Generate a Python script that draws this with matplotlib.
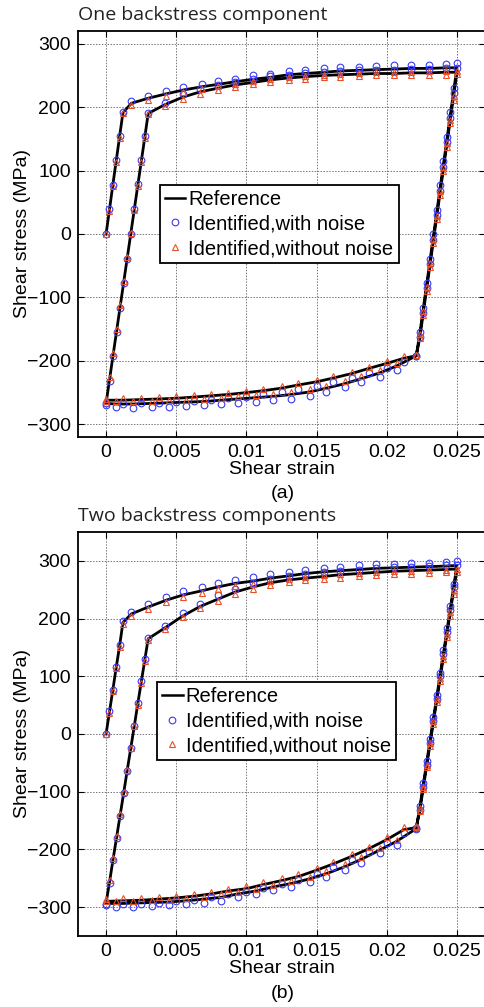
import matplotlib
matplotlib.use("Agg")
import matplotlib.pyplot as plt
from matplotlib.lines import Line2D

plt.rcParams['font.family'] = ['Liberation Sans', 'DejaVu Sans']

# shared strain path: load, unload, reverse, reload, load, unload, reverse
strain = [0, 0.00024, 0.00048, 0.00072, 0.00096, 0.0012, 0.0018, 0.0030, 0.0043, 0.0055, 0.0068, 0.0080, 0.0092,
          0.0105, 0.0117, 0.0130, 0.0142, 0.0155, 0.0167, 0.0180, 0.0192, 0.0205, 0.0217, 0.0230, 0.0242, 0.0250,
          0.02476, 0.02452, 0.02428, 0.02404, 0.0238, 0.02356, 0.02332, 0.02308, 0.02284, 0.0226, 0.02236, 0.0221,
          0.0207, 0.0195, 0.0182, 0.0170, 0.0157, 0.0145, 0.0132, 0.0119, 0.0107, 0.0094, 0.0082, 0.0070, 0.0057,
          0.0045, 0.0033, 0.0019, 0.0007, 0,
          0.00025, 0.0005, 0.00075, 0.001, 0.00125, 0.0015, 0.00175, 0.002, 0.00225, 0.0025, 0.00275, 0.0030,
          0.0042, 0.0055, 0.0067, 0.0080, 0.0092, 0.0105, 0.0117, 0.0130, 0.0142, 0.0155, 0.0167, 0.0180, 0.0192,
          0.0205, 0.0217, 0.0230, 0.0242, 0.0250,
          0.02476, 0.02452, 0.02428, 0.02404, 0.0238, 0.02356, 0.02332, 0.02308, 0.02284, 0.0226, 0.02236, 0.0221,
          0.0212, 0.0200, 0.0187, 0.0175, 0.0162, 0.0150, 0.0137, 0.0125, 0.0112, 0.0100, 0.0087, 0.0075, 0.0063,
          0.0050, 0.0038, 0.0025, 0.0012, 0]

# (a) one backstress component
ref_a = [0, 38, 77, 115, 153, 191, 206, 214, 221, 227, 232, 236, 240, 244, 247, 251, 253, 255, 257, 258, 259, 260, 261, 261, 262, 262,
         224, 186, 148, 110, 72, 34, -4, -42, -80, -118, -156, -192,
         -208, -219, -228, -236, -243, -249, -253, -256, -258, -260, -262, -264, -265, -266, -267, -268, -268, -267,
         -229, -191, -153, -115, -77, -39, -1, 37, 75, 113, 151, 190,
         204, 216, 224, 230, 235, 239, 243, 246, 248, 250, 251, 252, 253, 253, 254, 254, 255, 255,
         217, 179, 141, 103, 65, 27, -11, -49, -87, -125, -163, -192,
         -196, -204, -212, -220, -227, -233, -238, -243, -247, -250, -253, -255, -257, -259, -260, -261, -262, -262]
noise_a = [0, 39, 78, 116, 154, 193, 210, 218, 226, 232, 237, 241, 245, 250, 253, 257, 259, 261, 263, 264, 265, 266, 267, 267, 268, 269,
           230, 192, 153, 115, 77, 38, 0, -39, -77, -116, -155, -193,
           -214, -225, -234, -241, -249, -255, -260, -262, -265, -267, -268, -270, -271, -272, -273, -274, -273, -269,
           -231, -192, -154, -116, -77, -39, 0, 39, 79, 117, 155, 191,
           207, 220, 229, 235, 240, 244, 249, 251, 254, 256, 257, 258, 259, 259, 260, 260, 261, 261,
           222, 183, 145, 106, 68, 30, -9, -47, -85, -124, -162, -193,
           -202, -211, -219, -227, -234, -239, -245, -249, -253, -257, -259, -261, -263, -265, -266, -267, -268, -267]
clean_a = [0, 37, 76, 114, 152, 190, 204, 212, 218, 224, 229, 233, 237, 241, 244, 247, 249, 251, 253, 254, 255, 256, 256, 257, 257, 257,
           218, 180, 143, 105, 67, 29, -8, -46, -84, -121, -158, -190,
           -204, -215, -224, -232, -239, -245, -249, -252, -254, -256, -258, -260, -261, -262, -263, -264, -264, -264,
           -225, -187, -150, -112, -74, -37, 1, 38, 76, 114, 152, 189,
           202, 213, 221, 227, 232, 236, 240, 243, 245, 247, 248, 249, 250, 250, 251, 251, 251, 252,
           212, 175, 137, 99, 62, 24, -14, -52, -90, -127, -164, -190,
           -192, -200, -209, -217, -224, -230, -235, -240, -244, -247, -250, -252, -254, -255, -257, -258, -259, -260]

# (b) two backstress components
ref_b = [0, 38, 76, 115, 152, 193, 208, 220, 232, 241, 248, 255, 261, 265, 270, 274, 278, 281, 283, 285, 287, 288, 289, 290, 291, 292,
         254, 216, 178, 140, 102, 64, 26, -12, -50, -88, -126, -164,
         -186, -201, -217, -230, -242, -251, -259, -265, -272, -277, -283, -286, -289, -291, -292, -293, -294, -293,
         -256, -217, -179, -141, -103, -64, -26, 12, 51, 89, 127, 165,
         184, 205, 221, 234, 246, 255, 262, 267, 270, 273, 276, 278, 280, 282, 283, 284, 285, 286,
         248, 210, 172, 134, 96, 58, 20, -18, -56, -94, -132, -162,
         -166, -183, -199, -212, -225, -236, -247, -254, -261, -268, -272, -277, -281, -284, -286, -288, -289, -290]
noise_b = [0, 39, 77, 116, 154, 196, 212, 225, 237, 247, 254, 261, 267, 272, 277, 281, 285, 288, 290, 292, 294, 295, 296, 297, 298, 299,
           260, 222, 183, 145, 106, 68, 30, -9, -47, -85, -124, -163,
           -192, -207, -223, -236, -248, -257, -265, -271, -278, -283, -289, -292, -295, -297, -298, -299, -300, -296,
           -258, -219, -180, -142, -103, -64, -25, 14, 53, 92, 130, 166,
           187, 209, 226, 240, 252, 261, 268, 273, 277, 280, 283, 285, 287, 289, 290, 291, 292, 293,
           254, 215, 177, 138, 100, 61, 23, -16, -54, -92, -131, -164,
           -172, -189, -205, -218, -231, -242, -253, -260, -267, -274, -278, -283, -287, -290, -292, -294, -295, -295]
clean_b = [0, 37, 75, 114, 151, 191, 205, 217, 229, 237, 244, 251, 256, 260, 265, 269, 272, 275, 277, 279, 281, 282, 283, 284, 285, 286,
           249, 211, 173, 135, 97, 60, 22, -16, -54, -91, -128, -162,
           -183, -197, -213, -226, -238, -247, -255, -261, -268, -273, -278, -282, -285, -287, -288, -289, -290, -290,
           -253, -215, -177, -139, -101, -63, -25, 13, 51, 89, 126, 163,
           182, 202, 218, 231, 242, 251, 258, 263, 266, 269, 271, 273, 275, 277, 278, 279, 280, 281,
           243, 205, 168, 130, 92, 55, 17, -21, -58, -96, -133, -160,
           -162, -179, -195, -208, -221, -232, -242, -250, -257, -263, -268, -273, -277, -280, -282, -284, -285, -286]

x_ticks = [0, 0.005, 0.01, 0.015, 0.02, 0.025]
x_ticklabels = ['0', '0.005', '0.01', '0.015', '0.02', '0.025']
y_ticks = [-300, -200, -100, 0, 100, 200, 300]
titles = ['One backstress component', 'Two backstress components']
panel_tags = ['(a)', '(b)']
legend_labels = ['Reference', 'Identified,with noise', 'Identified,without noise']

blue = '#3a3af0'
red = '#e8502a'

fig = plt.figure(figsize=(4.84, 10.07), dpi=100)
W, H = 484, 1007

panels = [
    dict(ref=ref_a, noise=noise_a, clean=clean_a, top=31, bottom=437, ylim=(-320, 320), leg=(0.202, 0.621)),
    dict(ref=ref_b, noise=noise_b, clean=clean_b, top=532, bottom=936, ylim=(-350, 350), leg=(0.195, 0.629)),
]

for k, p in enumerate(panels):
    ax = fig.add_axes([78 / W, 1 - p['bottom'] / H, 407 / W, (p['bottom'] - p['top']) / H])
    ax.plot(strain, p['ref'], color='black', lw=2.0, zorder=3)
    ax.plot(strain, p['noise'], ls='none', marker='o', ms=4.8, mfc='none', mec=blue, mew=0.8, zorder=4)
    ax.plot(strain, p['clean'], ls='none', marker='^', ms=4.5, mfc='none', mec=red, mew=0.8, zorder=5)
    ax.set_xlim(-0.002, 0.027)
    ax.set_ylim(*p['ylim'])
    ax.set_xticks(x_ticks)
    ax.set_xticklabels(x_ticklabels)
    ax.set_yticks(y_ticks)
    ax.tick_params(direction='in', top=True, right=True, length=4, labelsize=14, pad=5)
    ax.grid(True, ls=(0, (1.5, 1.5)), color='#777777', lw=0.7)
    for s in ax.spines.values():
        s.set_linewidth(1.3)
    ax.set_xlabel('Shear strain', fontsize=14, labelpad=0)
    ax.set_ylabel('Shear stress (MPa)', fontsize=14)
    ax.yaxis.set_label_coords(-0.116, 0.5)

    handles = [Line2D([], [], color='black', lw=1.8),
               Line2D([], [], ls='none', marker='o', ms=4.8, mfc='none', mec=blue, mew=0.8),
               Line2D([], [], ls='none', marker='^', ms=4.5, mfc='none', mec=red, mew=0.8)]
    leg = ax.legend(handles, legend_labels, loc='upper left', bbox_to_anchor=p['leg'], borderaxespad=0,
                    fontsize=14.5, handlelength=1.0, handletextpad=0.15, labelspacing=0.28,
                    borderpad=0.25, fancybox=False, framealpha=1, edgecolor='black')
    leg.get_frame().set_linewidth(1.3)

    fig.text(78 / W, 1 - (p['top'] - 16) / H, titles[k], fontsize=14, family='Open Sans',
             ha='left', va='center', color='#222222')
    fig.text(283 / W, 1 - (p['bottom'] + 57) / H, panel_tags[k], fontsize=14, ha='center', va='center')

fig.savefig('out.png', dpi=100)
